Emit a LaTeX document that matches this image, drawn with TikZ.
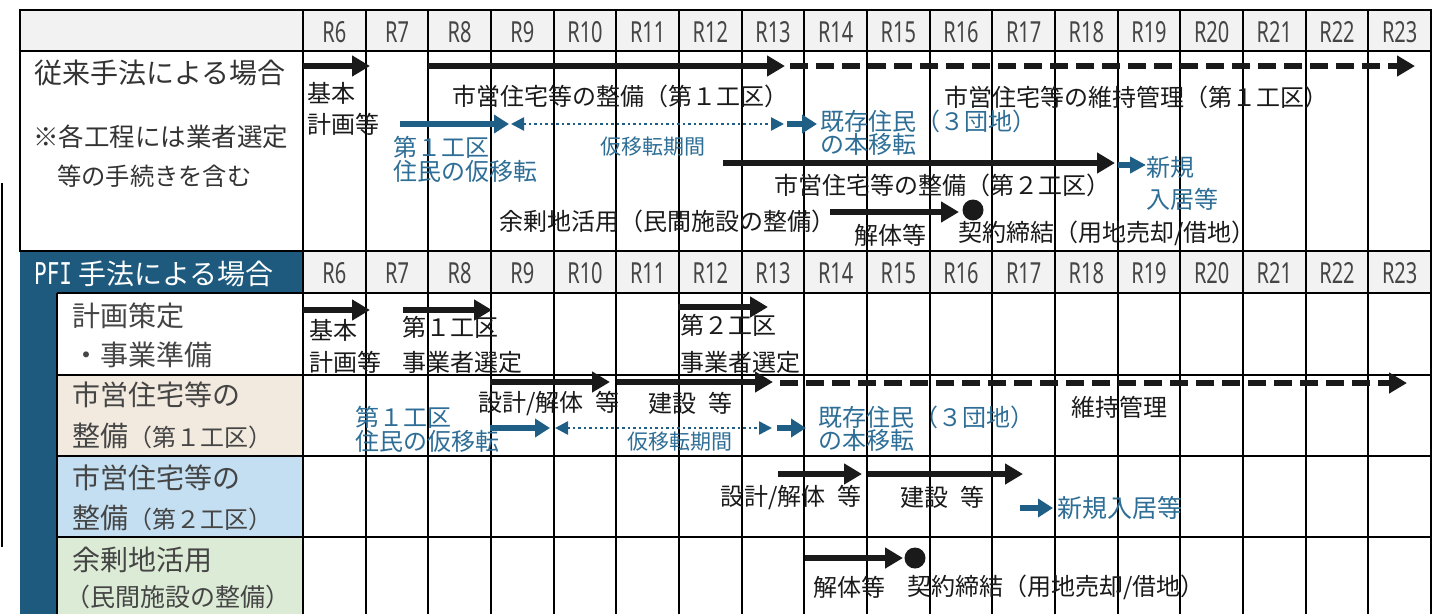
\documentclass[tikz,border=0pt]{standalone}
\usepackage{fontspec}
\setmainfont{Noto Sans CJK JP}
\newfontfamily\rfont[FakeStretch=0.69]{Noto Sans}
\newfontfamily\pfifont[FakeStretch=0.7]{DejaVu Sans Mono}
\usetikzlibrary{arrows.meta}
\definecolor{pfiblue}{HTML}{1D5A7E}
\definecolor{txtblue}{HTML}{2E6E96}
\definecolor{arrblue}{HTML}{1F5F86}
\definecolor{hdrgray}{HTML}{F2F2F2}
\definecolor{lblgray}{HTML}{454545}
\definecolor{topgray}{HTML}{333333}
\definecolor{chartblack}{HTML}{1A1A1A}
\definecolor{beige}{HTML}{F2EADF}
\definecolor{lightblue}{HTML}{C3DFF1}
\definecolor{lightgreen}{HTML}{DCEBD6}
\begin{document}
\begin{tikzpicture}[x=1pt,y=-1pt,
  gridline/.style={line width=2pt, black},
  bar/.style={line width=6pt, chartblack, -{Triangle[length=18pt,width=20pt]}},
  dbar/.style={bar, dash pattern=on 18pt off 8pt},
  bbar/.style={line width=6pt, arrblue, -{Triangle[length=15pt,width=18pt]}},
  dotbar/.style={line width=2.5pt, arrblue, dash pattern=on 2.5pt off 3pt,
     arrows={Triangle[length=13pt,width=13pt]-Triangle[length=13pt,width=13pt]}},
  ctext/.style={anchor=west, inner sep=0pt, text=chartblack, font=\fontsize{24pt}{24pt}\selectfont},
  btext/.style={ctext, text=txtblue},
  stext/.style={btext, font=\fontsize{21pt}{21pt}\selectfont},
  lbl/.style={anchor=west, inner sep=0pt, text=lblgray, font=\fontsize{28pt}{28pt}\selectfont},
  rlbl/.style={anchor=center, inner sep=0pt, text=lblgray, font=\rfont\fontsize{29pt}{29pt}\selectfont},
  dotnode/.style={circle, fill=chartblack, inner sep=0pt, minimum size=21pt}
]
\useasboundingbox (0,0) rectangle (1444,614);

% ---------- top table ----------
\fill[hdrgray] (20,10) rectangle (1431,51);
\foreach \k in {1,...,17} {
  \draw[gridline] ({303+62.667*\k},10) -- ({303+62.667*\k},251);
}
\draw[gridline] (20,51) -- (1431,51);
\draw[gridline] (303,10) -- (303,251);
\draw[line width=2.5pt] (20,10) rectangle (1431,251);

% ---------- bottom table ----------
\fill[hdrgray] (303,251) rectangle (1431,293);
\fill[pfiblue] (20,251) rectangle (303,614);
\fill[white] (57,293) rectangle (303,375);
\fill[beige] (57,375) rectangle (303,456);
\fill[lightblue] (57,456) rectangle (303,537);
\fill[lightgreen] (57,537) rectangle (303,614);
\foreach \k in {1,...,17} {
  \draw[gridline] ({303+62.667*\k},251) -- ({303+62.667*\k},614);
}
\foreach \yy in {293,375,456,537} {
  \draw[gridline] (57,\yy) -- (1431,\yy);
}
\draw[gridline] (57,293) -- (57,614);
\draw[gridline] (303,251) -- (303,614);
\draw[line width=2.5pt] (20,251) -- (1431,251);
\draw[line width=2.5pt] (1431,251) -- (1431,614);

% stray left rule
\draw[line width=2pt] (2,183) -- (2,547);

% ---------- year labels ----------
\foreach \k [evaluate=\k as \yr using int(\k+6)] in {0,...,17} {
  \node[rlbl] (ta\k) at ({303+62.667*(\k+0.5)},32) {R\yr};
  \node[rlbl] (tb\k) at ({303+62.667*(\k+0.5)},273) {R\yr};
}

% ---------- top section texts ----------
\node[anchor=west, inner sep=0pt, text=topgray, font=\fontsize{28pt}{28pt}\selectfont] (trad) at (34,73) {従来手法による場合};
\node[anchor=west, inner sep=0pt, text=topgray, font=\fontsize{25.5pt}{25.5pt}\selectfont] (note1) at (33,137) {※各工程には業者選定};
\node[anchor=west, inner sep=0pt, text=topgray, font=\fontsize{24.3pt}{24.3pt}\selectfont] (note2) at (57,176) {等の手続きを含む};

\node[ctext] (u1) at (307,93) {基本};
\node[ctext] (u2) at (307,124) {計画等};
\node[ctext] (u3) at (452,96) {市営住宅等の整備（第１工区）};
\node[ctext] (u4) at (944,97) {市営住宅等の維持管理（第１工区）};
\node[btext] (u5) at (393,147) {第１工区};
\node[btext] (u6) at (393,171) {住民の仮移転};
\node[stext] (u7) at (600,147) {仮移転期間};
\node[btext] (u8) at (820,121) {既存住民（３団地）};
\node[btext] (u9) at (820,144) {の本移転};
\node[ctext] (u10) at (774,185) {市営住宅等の整備（第２工区）};
\node[btext] (u11) at (1146,167) {新規};
\node[btext] (u12) at (1146,199) {入居等};
\node[ctext] (u13) at (499,221) {余剰地活用（民間施設の整備）};
\node[ctext] (u14) at (854,235) {解体等};
\node[ctext] (u15) at (958,233) {契約締結（用地売却/借地）};

% top section bars
\coordinate (a1s) at (303,66);  \coordinate (a1e) at (370,66);
\coordinate (a2s) at (428,66);  \coordinate (a2e) at (785,66);
\coordinate (a3s) at (790,66);  \coordinate (a3e) at (1415,66);
\coordinate (a4s) at (400,124); \coordinate (a4e) at (509,124);
\coordinate (a5s) at (511,124); \coordinate (a5e) at (784,124);
\coordinate (a6s) at (787,124); \coordinate (a6e) at (817,124);
\coordinate (a7s) at (723,163); \coordinate (a7e) at (1115,163);
\coordinate (a8s) at (1118,165); \coordinate (a8e) at (1146,165);
\coordinate (a9s) at (830,212); \coordinate (a9e) at (959,212);
\draw[bar] (a1s) -- (a1e);
\draw[bar] (a2s) -- (a2e);
\draw[dbar] (a3s) -- (a3e);
\draw[bbar] (a4s) -- (a4e);
\draw[dotbar] (a5s) -- (a5e);
\draw[bbar] (a6s) -- (a6e);
\draw[bar] (a7s) -- (a7e);
\draw[bbar, arrows={-Triangle[length=16pt,width=16pt]}] (a8s) -- (a8e);
\draw[bar] (a9s) -- (a9e);
\node[dotnode] (c1) at (973,210) {};

% ---------- bottom section texts ----------
\node[anchor=west, inner sep=0pt, text=white, font=\fontsize{28pt}{28pt}\selectfont] (pfi) at (34,274) {{\pfifont\fontsize{30pt}{30pt}\selectfont PFI} 手法による場合};
\node[lbl] (l1) at (72,316) {計画策定};
\node[lbl] (l2) at (72,355) {・事業準備};
\node[lbl] (l3) at (72,395) {市営住宅等の};
\node[lbl] (l4) at (72,436) {整備{\fontsize{24pt}{24pt}\selectfont（第１工区）}};
\node[lbl] (l5) at (72,478) {市営住宅等の};
\node[lbl] (l6) at (72,518) {整備{\fontsize{24pt}{24pt}\selectfont（第２工区）}};
\node[lbl] (l7) at (72,560) {余剰地活用};
\node[lbl, font=\fontsize{25pt}{25pt}\selectfont] (l8) at (65,597) {（民間施設の整備）};

\node[ctext] (v1) at (309,330) {基本};
\node[ctext] (v2) at (309,362) {計画等};
\node[ctext] (v3) at (402,327) {第１工区};
\node[ctext] (v4) at (402,362) {事業者選定};
\node[ctext] (v5) at (680,325) {第２工区};
\node[ctext] (v6) at (680,362) {事業者選定};
\node[ctext] (v7) at (478,403) {設計/解体\enspace 等};
\node[ctext] (v8) at (648,403) {建設\enspace 等};
\node[ctext] (v9) at (1071,407) {維持管理};
\node[btext] (v10) at (355,417) {第１工区};
\node[btext] (v11) at (355,441) {住民の仮移転};
\node[stext] (v12) at (627,442) {仮移転期間};
\node[btext] (v13) at (818,417) {既存住民（３団地）};
\node[btext] (v14) at (818,440) {の本移転};
\node[ctext] (v15) at (720,497) {設計/解体\enspace 等};
\node[ctext] (v16) at (900,497) {建設\enspace 等};
\node[btext, font=\fontsize{25pt}{25pt}\selectfont] (v17) at (1057,508) {新規入居等};
\node[ctext] (v18) at (813,587) {解体等};
\node[ctext] (v19) at (907,587) {契約締結（用地売却/借地）};

% bottom section bars
\coordinate (b1s) at (303,310);  \coordinate (b1e) at (370,310);
\coordinate (b2s) at (403,310);  \coordinate (b2e) at (492,310);
\coordinate (b3s) at (678,307);  \coordinate (b3e) at (768,307);
\coordinate (b4s) at (490,382);  \coordinate (b4e) at (610,382);
\coordinate (b5s) at (617,382);  \coordinate (b5e) at (773,382);
\coordinate (b6s) at (780,383);  \coordinate (b6e) at (1407,383);
\coordinate (b7s) at (490,428);  \coordinate (b7e) at (550,428);
\coordinate (b8s) at (555,428);  \coordinate (b8e) at (772,428);
\coordinate (b9s) at (777,428);  \coordinate (b9e) at (806,428);
\coordinate (b10s) at (778,474); \coordinate (b10e) at (862,474);
\coordinate (b11s) at (868,474); \coordinate (b11e) at (1023,474);
\coordinate (b12s) at (1020,508); \coordinate (b12e) at (1053,508);
\coordinate (b13s) at (805,558); \coordinate (b13e) at (903,558);
\draw[bar] (b1s) -- (b1e);
\draw[bar] (b2s) -- (b2e);
\draw[bar] (b3s) -- (b3e);
\draw[bar] (b4s) -- (b4e);
\draw[bar] (b5s) -- (b5e);
\draw[dbar] (b6s) -- (b6e);
\draw[bbar] (b7s) -- (b7e);
\draw[dotbar] (b8s) -- (b8e);
\draw[bbar] (b9s) -- (b9e);
\draw[bar] (b10s) -- (b10e);
\draw[bar] (b11s) -- (b11e);
\draw[bbar] (b12s) -- (b12e);
\draw[bar] (b13s) -- (b13e);
\node[dotnode] (c2) at (915,558) {};
\end{tikzpicture}
\end{document}
